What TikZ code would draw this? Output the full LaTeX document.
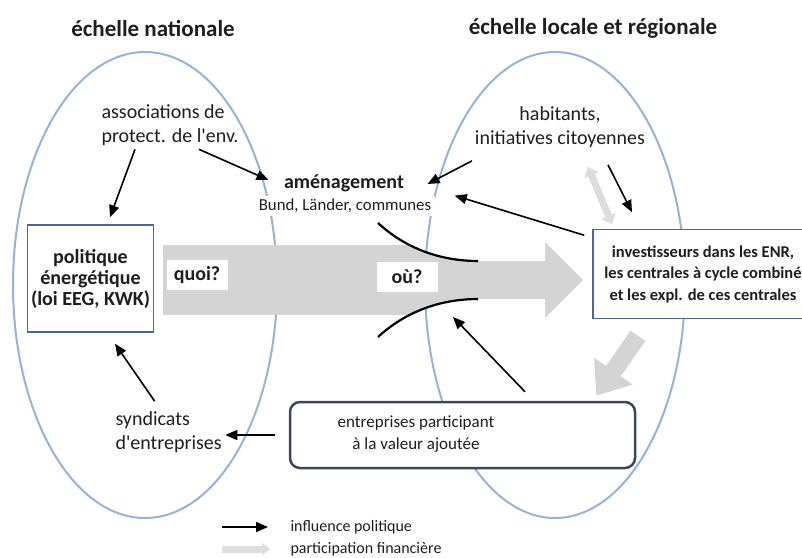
\documentclass[tikz,border=0pt]{standalone}
\usepackage{fontspec}
\setmainfont{Carlito}
\usetikzlibrary{arrows.meta}
\definecolor{ellblue}{RGB}{149,179,215}
\definecolor{boxblue}{RGB}{72,104,152}
\definecolor{slate}{RGB}{59,72,92}
\definecolor{flowgrey}{RGB}{212,212,212}
\definecolor{ink}{RGB}{30,30,30}

\begin{document}
\begin{tikzpicture}[x=1pt,y=-1pt,
    every node/.style={text=ink},
    ell/.style={draw=ellblue,line width=2pt},
    titletxt/.style={font=\bfseries\fontsize{23}{27}\selectfont},
    txt/.style={font=\fontsize{20}{24.5}\selectfont,align=center},
    bluebox/.style={draw=boxblue,line width=1.5pt,fill=white,align=center},
    qbox/.style={fill=white,minimum width=61,minimum height=30,font=\bfseries\fontsize{20}{24}\selectfont},
    infl/.style={-{Triangle[length=12pt,width=10pt]},line width=1.6pt,draw=black},
    fin/.style={-{Triangle[length=30pt,width=45pt]},line width=18pt,draw=flowgrey},
    funnel/.style={line width=2.2pt,draw=black}]
  \useasboundingbox (0,0) rectangle (802,557);
  \clip (0,0) rectangle (802,557);

  \draw[ell] (145,285) ellipse [x radius=132, y radius=233];
  \draw[ell] (555,285) ellipse [x radius=130, y radius=233];

  \node[titletxt] (natl) at (153,28) {échelle nationale};
  \node[titletxt] (locl) at (593,28) {échelle locale et régionale};

  \coordinate (arcA) at (378,223);
  \coordinate (arcB) at (478,261);
  \coordinate (arcC) at (378,337);
  \coordinate (arcD) at (478,299);
  \begin{scope}
    \clip (arcA) .. controls (405,248) and (440,261) .. (arcB) -- (600,261) -- (600,299)
      -- (arcD) .. controls (440,299) and (405,312) .. (arcC) -- (150,337) -- (150,223) -- cycle;
    \fill[flowgrey] (163,245) rectangle (546,315);
  \end{scope}
  \fill[flowgrey] (545,242) -- (583,280) -- (545,318) -- cycle;
  \draw[funnel] (arcA) .. controls (405,248) and (440,261) .. (arcB);
  \draw[funnel] (arcC) .. controls (405,312) and (440,299) .. (arcD);

  \node[qbox] (quoi) at (197,275) {quoi?};
  \node[qbox] (ou) at (407,277) {où?};

  \node[txt,align=left,anchor=west] (assoc) at (98,125) {associations de\\protect. de l\textquotesingle env.};
  \node[txt] (habit) at (560,127) {habitants,\\initiatives citoyennes};
  \node[txt,align=left,anchor=west] (synd) at (112,432) {syndicats\\d\textquotesingle entreprises};

  \node[font=\bfseries\fontsize{20}{24}\selectfont] (amen) at (344,183) {aménagement};
  \node[fill=white,font=\fontsize{16.8}{20}\selectfont] (bund) at (345,206) {Bund, Länder, communes};

  \node[bluebox,minimum width=124,minimum height=107,
        font=\bfseries\fontsize{20}{21}\selectfont] (polit) at (90.5,278.5)
        {politique\\énergétique\\(loi EEG, KWK)};
  \node[bluebox,minimum width=220,minimum height=89,
        font=\bfseries\fontsize{16.5}{21.5}\selectfont] (invest) at (703,274)
        {investisseurs dans les ENR,\\les centrales à cycle combiné\\et les expl. de ces centrales};
  \node[draw=slate,line width=2.5pt,fill=white,rounded corners=10pt,
        minimum width=345,minimum height=66] (entr) at (462.5,435) {};
  \node[font=\fontsize{17}{22}\selectfont,align=center] (entrtxt) at (416,434)
        {entreprises participant\\à la valeur ajoutée};

  \coordinate (funtip) at (453,317);

  \draw[infl] ([xshift=-35pt]assoc.south) -- ([xshift=19.5pt,yshift=7pt]polit.north);
  \draw[infl] ([xshift=29pt]assoc.south) -- ([xshift=-12pt,yshift=3pt]amen.west);
  \draw[infl] ([xshift=-88pt,yshift=-9.5pt]habit.south) -- ([xshift=20pt,yshift=-1pt]amen.east);
  \draw[infl] ([xshift=-8pt,yshift=-6.5pt]invest.north west) -- ([xshift=20pt]bund.north east);
  \draw[infl] ([xshift=48pt,yshift=-13.5pt]habit.south) -- ([xshift=-71pt,yshift=16.5pt]invest.north);
  \draw[{Triangle[length=9pt,width=15pt]}-{Triangle[length=9pt,width=15pt]},line width=7pt,draw=flowgrey!80]
    ([xshift=28pt,yshift=-15.5pt]habit.south) -- ([xshift=-91pt,yshift=4.5pt]invest.north);
  \draw[fin] ([xshift=-65pt,yshift=-16.5pt]invest.south) -- ([xshift=-40pt,yshift=5pt]entr.north east);
  \draw[infl] ([xshift=62.5pt,yshift=9pt]entr.north) -- (funtip);
  \draw[infl] ([xshift=-14pt]entr.west) -- (entr.west -| synd.east);
  \draw[infl] ([xshift=-14pt,yshift=6.5pt]synd.north) -- ([xshift=24.5pt,yshift=-11pt]polit.south);

  \coordinate (legA) at (222,527);
  \coordinate (legB) at (222,549);
  \node[anchor=west,font=\fontsize{16}{19}\selectfont] (legAt) at (287,527) {influence politique};
  \node[anchor=west,font=\fontsize{16}{19}\selectfont] (legBt) at (287,549) {participation financière};
  \draw[infl,shorten >=19pt] (legA) -- (legAt.west);
  \draw[-{Triangle[length=8pt,width=12pt]},line width=7pt,draw=flowgrey!80,shorten >=17pt] (legB) -- (legBt.west);
\end{tikzpicture}
\end{document}
